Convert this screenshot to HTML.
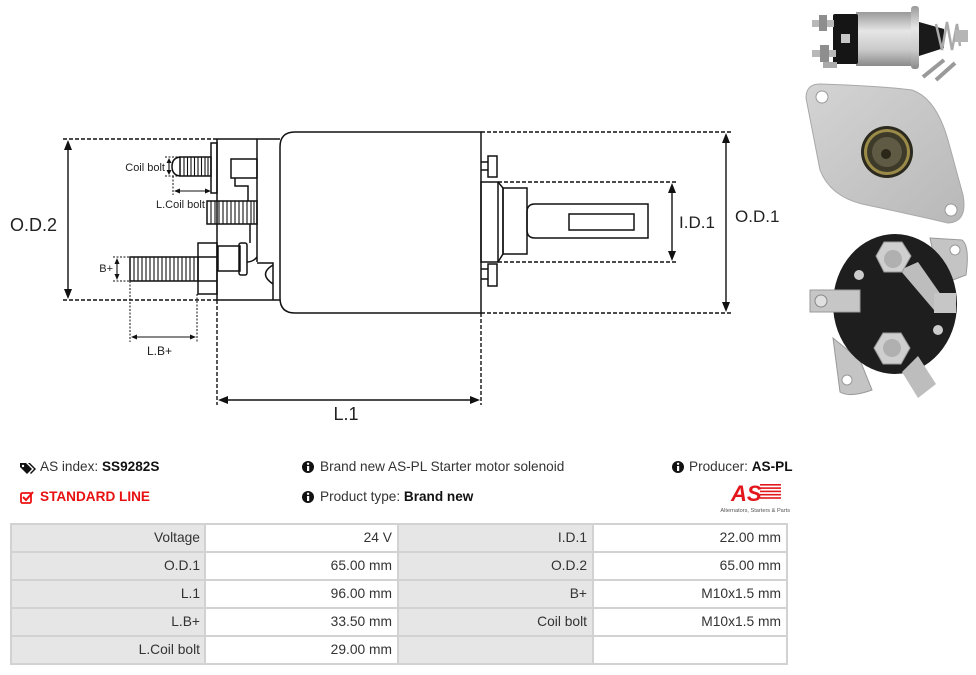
<!DOCTYPE html>
<html><head><meta charset="utf-8">
<style>
html,body{margin:0;padding:0;background:#fff;}
body{width:976px;height:675px;position:relative;overflow:hidden;font-family:"Liberation Sans",Arial,sans-serif;color:#333;}
svg.d{position:absolute;left:0;top:0;}
.t{position:absolute;font-size:13.6px;white-space:nowrap;line-height:16px;color:#333;}
.t b{color:#111;}
.c{position:absolute;font-size:13.8px;white-space:nowrap;line-height:16px;text-align:right;color:#333;}
.lbl{font-family:"Liberation Sans",Arial,sans-serif;fill:#222;}
</style></head>
<body>
<svg class="d" width="976" height="675" viewBox="0 0 976 675" xmlns="http://www.w3.org/2000/svg">
<defs>
<linearGradient id="cyl" x1="0" y1="0" x2="0" y2="1">
<stop offset="0" stop-color="#9a9a9a"/><stop offset="0.35" stop-color="#e6e6e6"/><stop offset="0.7" stop-color="#cacaca"/><stop offset="1" stop-color="#8a8a8a"/>
</linearGradient>
<linearGradient id="pl" x1="0" y1="0" x2="1" y2="1">
<stop offset="0" stop-color="#d4d4d4"/><stop offset="1" stop-color="#b8b8b8"/>
</linearGradient>
</defs>

<!-- ===== DIAGRAM ===== -->
<g fill="none" stroke="#111" stroke-width="1.5">
 <path d="M481 132 H295 Q280 132 280 147 V298 Q280 313 295 313 H481 Z"/>
 <path d="M217 139 H280 M217 300 H280 M217 139 V300"/>
 <path d="M257 139 V262"/>
 <path d="M257 263 H273 V300"/>
 <path d="M273 265 Q258 274 273 284"/>
 <path d="M247 262 Q253 262 257 257"/>
 <rect x="231" y="159" width="26" height="19"/>
 <path d="M235 178 V186 H248 V201"/>
 <path d="M250 224 V243"/>
 <rect x="211" y="143" width="6" height="50"/>
 <rect x="180" y="157" width="31" height="19"/>
 <path d="M180 157 Q172 158 172 166.5 Q172 175 180 176"/>
 <path d="M184 157V176 M187.5 157V176 M191 157V176 M194.5 157V176 M198 157V176 M201.5 157V176 M205 157V176 M208 157V176" stroke-width="1.1"/>
 <rect x="207" y="201" width="50" height="23"/>
 <path d="M211 201V224 M215 201V224 M219 201V224 M223 201V224 M227 201V224 M231 201V224 M235 201V224 M239 201V224 M243 201V224 M247 201V224 M251 201V224 M254 201V224" stroke-width="1.1"/>
 <rect x="198" y="243" width="19" height="51"/>
 <path d="M198 257 H217 M198 281 H217"/>
 <rect x="130" y="257" width="68" height="24"/>
 <path d="M134 257V281 M138 257V281 M142 257V281 M146 257V281 M150 257V281 M154 257V281 M158 257V281 M162 257V281 M166 257V281 M170 257V281 M174 257V281 M178 257V281 M182 257V281 M186 257V281 M190 257V281 M194 257V281" stroke-width="1.1"/>
 <rect x="218" y="246" width="22" height="25"/>
 <rect x="239" y="243" width="8" height="32" rx="2"/>
 <!-- right side -->
 <path d="M481 162 H488 M481 170 H488"/>
 <rect x="488" y="156" width="9" height="21"/>
 <path d="M481 269 H488 M481 279 H488"/>
 <rect x="488" y="264" width="9" height="22"/>
 <rect x="481" y="182" width="17" height="80"/>
 <path d="M498 182 L503 188 V254 L498 262"/>
 <rect x="503" y="188" width="24" height="66"/>
 <path d="M648 204 H535 Q527 204 527 212 V230 Q527 238 535 238 H648 Z"/>
 <rect x="569" y="214" width="65" height="16"/>
</g>
<!-- dashed extension lines -->
<g fill="none" stroke="#111" stroke-width="1.4" stroke-dasharray="4 2">
 <path d="M63 139 H217 M63 300 H217"/>
 <path d="M481 132 H731 M481 313 H731"/>
 <path d="M498 182 H676 M498 262 H676"/>
 <path d="M217 300 V405 M481 313 V405"/>
</g>
<g fill="none" stroke="#111" stroke-width="1" stroke-dasharray="2 1.5">
 <path d="M165 157 H180 M165 176 H180 M173 176 V195"/>
 <path d="M113 257 H130 M113 281 H130 M130 281 V342 M197 294 V342"/>
</g>
<!-- arrows -->
<g stroke="#111" stroke-width="1.4" fill="#111">
 <line x1="68" y1="146" x2="68" y2="293"/>
 <polygon points="68,140 64,150 72,150" stroke="none"/>
 <polygon points="68,299 64,289 72,289" stroke="none"/>
 <line x1="726" y1="139" x2="726" y2="306"/>
 <polygon points="726,133 722,143 730,143" stroke="none"/>
 <polygon points="726,312 722,302 730,302" stroke="none"/>
 <line x1="672" y1="189" x2="672" y2="255"/>
 <polygon points="672,183 668,193 676,193" stroke="none"/>
 <polygon points="672,261 668,251 676,251" stroke="none"/>
 <line x1="224" y1="400" x2="474" y2="400"/>
 <polygon points="218,400 228,396 228,404" stroke="none"/>
 <polygon points="480,400 470,396 470,404" stroke="none"/>
 <line x1="169" y1="161" x2="169" y2="172" stroke-width="1.1"/>
 <polygon points="169,158 166.5,163 171.5,163" stroke="none"/>
 <polygon points="169,175 166.5,170 171.5,170" stroke="none"/>
 <line x1="178" y1="191" x2="207" y2="191" stroke-width="1.1"/>
 <polygon points="174,191 180,188.5 180,193.5" stroke="none"/>
 <polygon points="211,191 205,188.5 205,193.5" stroke="none"/>
 <line x1="117" y1="261" x2="117" y2="277" stroke-width="1.1"/>
 <polygon points="117,258 114.5,264 119.5,264" stroke="none"/>
 <polygon points="117,280 114.5,274 119.5,274" stroke="none"/>
 <line x1="135" y1="337" x2="192" y2="337" stroke-width="1.1"/>
 <polygon points="131,337 137,334.5 137,339.5" stroke="none"/>
 <polygon points="196,337 190,334.5 190,339.5" stroke="none"/>
</g>
<!-- diagram labels -->
<text class="lbl" x="10" y="231" font-size="18">O.D.2</text>
<text class="lbl" x="165" y="171" font-size="11" text-anchor="end">Coil bolt</text>
<text class="lbl" x="156" y="208" font-size="11">L.Coil bolt</text>
<text class="lbl" x="113" y="272" font-size="11" text-anchor="end">B+</text>
<text class="lbl" x="147" y="355" font-size="12">L.B+</text>
<text class="lbl" x="346" y="420" font-size="18" text-anchor="middle">L.1</text>
<text class="lbl" x="679" y="228" font-size="17">I.D.1</text>
<text class="lbl" x="735" y="222" font-size="17">O.D.1</text>

<!-- ===== PHOTOS ===== -->
<!-- side view -->
<g>
 <rect x="856" y="12" width="58" height="54" fill="url(#cyl)"/>
 <rect x="911" y="6" width="8" height="63" rx="3" fill="url(#cyl)"/>
 <rect x="833" y="14" width="25" height="50" rx="2" fill="#151515"/>
 <rect x="841" y="34" width="9" height="9" fill="#c8c8c8"/>
 <rect x="812" y="20" width="22" height="7" fill="#b8b8b8"/>
 <rect x="819" y="15" width="8" height="16" fill="#8e8e8e"/>
 <rect x="812" y="50" width="24" height="7" fill="#b8b8b8"/>
 <rect x="820" y="45" width="9" height="17" fill="#8e8e8e"/>
 <rect x="823" y="62" width="14" height="6" fill="#aaa"/>
 <path d="M919 22 L944 29 V48 L919 56 Z" fill="#1a1a1a"/>
 <path d="M936 24 L942 50 L947 22 L952 50 L957 24 L960 46" fill="none" stroke="#aaa" stroke-width="2.5"/>
 <rect x="955" y="30" width="13" height="12" fill="#b5b5b5"/>
 <line x1="923" y1="77" x2="944" y2="60" stroke="#9a9a9a" stroke-width="4"/>
 <line x1="936" y1="80" x2="955" y2="63" stroke="#9a9a9a" stroke-width="4"/>
</g>
<!-- flange plate -->
<g>
 <path d="M806 98 Q806 84 820 84 Q880 86 912 90 Q936 98 948 140 L963 195 Q968 222 948 223 Q900 212 862 204 Q830 196 820 170 Z" fill="url(#pl)" stroke="#a8a8a8"/>
 <circle cx="822" cy="97" r="6" fill="#fff" stroke="#999"/>
 <circle cx="951" cy="210" r="6" fill="#fff" stroke="#999"/>
 <circle cx="887" cy="152" r="26" fill="#2c2a1e"/>
 <circle cx="887" cy="152" r="23" fill="#9a8a48"/>
 <circle cx="887" cy="152" r="20" fill="#3d3a2a"/>
 <circle cx="887" cy="152" r="15" fill="#5e5a44"/>
 <circle cx="886" cy="154" r="5" fill="#2a2618"/>
</g>
<!-- end view -->
<g>
 <path d="M930 238 L962 240 Q970 246 966 275 L940 285 Z" fill="#c4c4c4" stroke="#999"/>
 <circle cx="955" cy="250" r="5" fill="#fff" stroke="#999"/>
 <path d="M833 338 L860 360 L872 390 Q850 398 840 392 Z" fill="#c4c4c4" stroke="#999"/>
 <circle cx="847" cy="380" r="5" fill="#fff" stroke="#999"/>
 <ellipse cx="895" cy="304" rx="62" ry="70" fill="#1e1e1e"/>
 <path d="M900 270 L918 262 L946 302 L934 310 Z" fill="#bdbdbd"/>
 <polygon points="876,256 884,242 902,242 911,256 902,272 884,272" fill="#cfcfcf" stroke="#999"/>
 <circle cx="893" cy="259" r="9" fill="#b0b0b0"/>
 <rect x="810" y="290" width="50" height="22" fill="#c6c6c6" stroke="#999"/>
 <circle cx="821" cy="301" r="6" fill="#e0e0e0" stroke="#888"/>
 <rect x="934" y="293" width="22" height="20" fill="#c6c6c6"/>
 <circle cx="859" cy="275" r="5" fill="#ccc"/>
 <circle cx="938" cy="330" r="5" fill="#ccc"/>
 <path d="M902 372 L918 356 L936 384 L918 398 Z" fill="#bdbdbd"/>
 <polygon points="874,348 883,333 901,333 910,348 901,364 883,364" fill="#cfcfcf" stroke="#999"/>
 <circle cx="892" cy="348" r="9" fill="#b0b0b0"/>
</g>

<!-- ===== ICONS ===== -->
<path d="M20 463 H26 L32 469 L27 474 L20 467 Z" fill="#111"/>
<circle cx="23" cy="466" r="1.2" fill="#fff"/>
<path d="M28 463 H30 L36 469 L31 474 L30 473 L34 469 Z" fill="#111"/>
<rect x="21" y="493" width="10" height="10" rx="1.5" fill="none" stroke="#e11" stroke-width="1.8"/>
<path d="M23 497 L26 500 L33 492" fill="none" stroke="#e11" stroke-width="2"/>
<g>
 <circle cx="308" cy="467" r="6" fill="#111"/>
 <rect x="307" y="466" width="2.2" height="5" fill="#fff"/><circle cx="308.1" cy="463.8" r="1.2" fill="#fff"/>
 <circle cx="308" cy="497" r="6" fill="#111"/>
 <rect x="307" y="496" width="2.2" height="5" fill="#fff"/><circle cx="308.1" cy="493.8" r="1.2" fill="#fff"/>
 <circle cx="678" cy="467" r="6" fill="#111"/>
 <rect x="677" y="466" width="2.2" height="5" fill="#fff"/><circle cx="678.1" cy="463.8" r="1.2" fill="#fff"/>
</g>
<!-- logo -->
<g fill="#e3171b">
 <rect x="760" y="484" width="21" height="1.6"/>
 <rect x="760" y="487.3" width="21" height="1.6"/>
 <rect x="760" y="490.6" width="21" height="1.6"/>
 <rect x="760" y="493.9" width="21" height="1.6"/>
 <rect x="760" y="497.2" width="21" height="1.6"/>
 <text x="731" y="501" font-size="22" font-weight="bold" font-style="italic" font-family="Liberation Sans, Arial, sans-serif">AS</text>
</g>
<text x="790" y="512" font-size="5.6" fill="#555" text-anchor="end" font-family="Liberation Sans, Arial, sans-serif">Alternators, Starters &amp; Parts</text>

<!-- ===== TABLE ===== -->
<rect x="11" y="524" width="194" height="140" fill="#e6e6e6"/>
<rect x="398" y="524" width="195" height="140" fill="#e6e6e6"/>
<g stroke="#d2d2d2" stroke-width="2" fill="none">
 <path d="M11 524 H787 M11 552 H787 M11 580 H787 M11 608 H787 M11 636 H787 M11 664 H787"/>
 <path d="M11 523 V665 M205 523 V665 M398 523 V665 M593 523 V665 M787 523 V665"/>
</g>
</svg>

<div class="t" style="left:40px;top:459px;">AS index: <b>SS9282S</b></div>
<div class="t" style="left:40px;top:489px;color:#e81010;font-weight:bold;">STANDARD LINE</div>
<div class="t" style="left:320px;top:459px;">Brand new AS-PL Starter motor solenoid</div>
<div class="t" style="left:320px;top:489px;">Product type: <b>Brand new</b></div>
<div class="t" style="left:689px;top:459px;">Producer: <b>AS-PL</b></div>

<div class="c" style="right:776px;top:530px;">Voltage</div>
<div class="c" style="right:584px;top:530px;">24 V</div>
<div class="c" style="right:389px;top:530px;">I.D.1</div>
<div class="c" style="right:195px;top:530px;">22.00 mm</div>

<div class="c" style="right:776px;top:558px;">O.D.1</div>
<div class="c" style="right:584px;top:558px;">65.00 mm</div>
<div class="c" style="right:389px;top:558px;">O.D.2</div>
<div class="c" style="right:195px;top:558px;">65.00 mm</div>

<div class="c" style="right:776px;top:586px;">L.1</div>
<div class="c" style="right:584px;top:586px;">96.00 mm</div>
<div class="c" style="right:389px;top:586px;">B+</div>
<div class="c" style="right:195px;top:586px;">M10x1.5 mm</div>

<div class="c" style="right:776px;top:614px;">L.B+</div>
<div class="c" style="right:584px;top:614px;">33.50 mm</div>
<div class="c" style="right:389px;top:614px;">Coil bolt</div>
<div class="c" style="right:195px;top:614px;">M10x1.5 mm</div>

<div class="c" style="right:776px;top:642px;">L.Coil bolt</div>
<div class="c" style="right:584px;top:642px;">29.00 mm</div>
</body></html>
